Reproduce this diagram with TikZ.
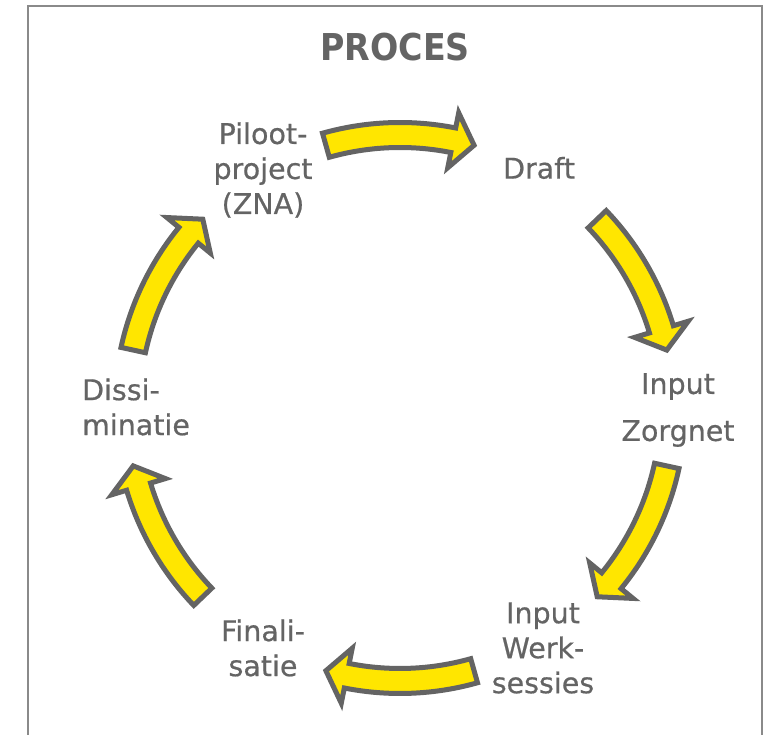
\documentclass[tikz,border=0pt]{standalone}
\usepackage{fontspec}
\setmainfont{DejaVu Sans}
\newfontfamily\labelfont[FakeBold=0.6]{DejaVu Sans}
\newfontfamily\titlefont[FakeStretch=0.9]{DejaVu Sans}
\definecolor{eygray}{HTML}{646464}
\definecolor{eyyellow}{HTML}{FFE600}
\definecolor{framegray}{HTML}{8A8A8A}
\begin{document}
\begin{tikzpicture}[x=1pt,y=1pt,
        steplabel/.style={text=eygray,align=center,inner sep=0pt,
            font=\labelfont\fontsize{28.5}{35}\selectfont},
        cyclearrow/.style={draw=eygray,fill=eyyellow,line width=5pt}]

    \useasboundingbox (0,0) rectangle (772,735);
    \draw [framegray,line width=2pt] (28,0)--(28,729)--(762,729)--(762,0);

    \node [text=eygray,font=\titlefont\fontsize{37}{42}\selectfont\bfseries] (title) at (395,688) {PROCES};

    \coordinate (C) at (400,327);

    % de zes pijlen van de cyclus
    \begin{scope}[shift={(C)}]
        \foreach \m in {90,28,-28,-90,-152,152}{
            \pgfmathsetmacro{\ta}{\m+15.75}
            \pgfmathsetmacro{\tb}{\m-15.75}
            \pgfmathsetmacro{\tc}{\m-11.25}
            \draw [cyclearrow] (\ta:285.5) arc[start angle=\ta,end angle=\tc,radius=285.5]
                --(\tc:301)--(\tb:273)--(\tc:245)--(\tc:260.5)
                arc[start angle=\tc,end angle=\ta,radius=260.5]--cycle;
        }
    \end{scope}

    % stappen
    \node [steplabel] (piloot) at (263,565) {Piloot-\\project\\(ZNA)};
    \node [steplabel] (draft) at (539,567) {Draft};
    \node [steplabel] (zorgnet) at (678,325) {Input\\[12pt]Zorgnet};
    \node [steplabel] (werk) at (543,87) {Input\\Werk-\\sessies};
    \node [steplabel] (final) at (263,87) {Finali-\\satie};
    \node [steplabel,align=left] (dissi) at (136,328) {Dissi-\\minatie};
\end{tikzpicture}
\end{document}
